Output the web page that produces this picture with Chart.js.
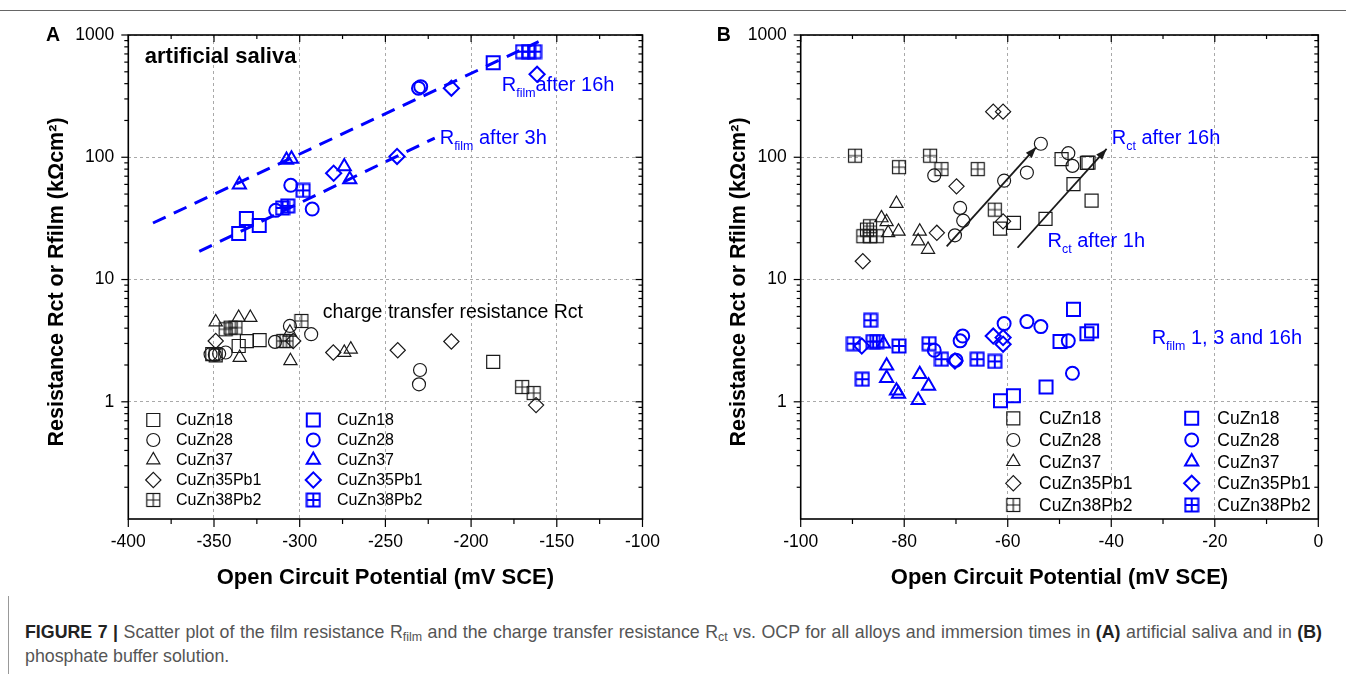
<!DOCTYPE html>
<html>
<head>
<meta charset="utf-8">
<script src="https://cdn.jsdelivr.net/npm/chart.js@4.4.1/dist/chart.umd.min.js"></script>
<style>
body { margin:0; background:#fff; width:1346px; height:674px; overflow:hidden; position:relative; font-family:"Liberation Sans", Arial, sans-serif; }
.panel { position:absolute; top:0; width:673px; height:600px; }
#boxA { left:0; }
#boxB { left:673px; }
#topline { position:absolute; left:0; top:10px; width:1346px; height:1px; background:#666; }
#sideline { position:absolute; left:8px; top:596px; width:1px; height:78px; background:#999; }
.cap { position:absolute; left:25px; width:1297px; font-size:17.8px; line-height:23px; color:#555; white-space:nowrap; }
#cap1 { top:621px; text-align:justify; text-align-last:justify; white-space:normal; }
#cap2 { top:645px; }
.cap b { color:#222; }
.cap sub { font-size:70%; line-height:0; vertical-align:-0.25em; }
</style>
</head>
<body>
<div id="topline"></div>
<div class="panel" id="boxA"><canvas id="chartA" width="673" height="600"></canvas></div>
<div class="panel" id="boxB"><canvas id="chartB" width="673" height="600"></canvas></div>
<div id="sideline"></div>
<div class="cap" id="cap1"><b>FIGURE 7 |</b> Scatter plot of the film resistance R<sub>film</sub> and the charge transfer resistance R<sub>ct</sub> vs. OCP for all alloys and immersion times in <b>(A)</b> artificial saliva and in <b>(B)</b></div>
<div class="cap" id="cap2">phosphate buffer solution.</div>
<script>
// alloys, same order in every panel
const alloys = ['CuZn18', 'CuZn28', 'CuZn37', 'CuZn35Pb1', 'CuZn38Pb2'];

// panel A - artificial saliva, [OCP mV, kOhm cm2]
// charge transfer resistance (black)
const aCtCuZn18 = [[-351, 2.45], [-349, 2.4], [-335.6, 2.86], [-330.8, 3.14], [-323.4, 3.2], [-187.1, 2.12]];
const aCtCuZn28 = [[-352, 2.45], [-349.5, 2.42], [-347, 2.47], [-343.2, 2.53], [-314.4, 3.09], [-305.7, 4.17], [-293.3, 3.57], [-229.8, 1.82], [-230.4, 1.39]];
const aCtCuZn37 = [[-349, 4.49], [-335.6, 4.88], [-328.8, 4.88], [-335, 2.3], [-305.4, 2.16], [-305.7, 3.7], [-274, 2.53], [-270.2, 2.69]];
const aCtCuZn35Pb1 = [[-349, 3.14], [-303.8, 3.14], [-280.4, 2.53], [-242.8, 2.64], [-211.5, 3.11], [-162.1, 0.94]];
const aCtCuZn38Pb2 = [[-343.2, 3.92], [-340.3, 4.04], [-337.5, 4.04], [-309.6, 3.14], [-307.7, 3.14], [-299, 4.58], [-170.2, 1.32], [-163.5, 1.18]];
// film resistance (blue)
const aFilmCuZn18 = [[-331.1, 31.5], [-323.6, 27.7], [-335.6, 23.8], [-187.1, 594]];
const aFilmCuZn28 = [[-305.2, 59], [-292.7, 37.7], [-314, 36.8], [-230.7, 367], [-229.4, 378]];
const aFilmCuZn37 = [[-335.2, 59.7], [-307.7, 95], [-304.8, 97], [-274, 84], [-270.8, 66]];
const aFilmCuZn35Pb1 = [[-280.2, 74], [-243.2, 101.6], [-211.5, 367], [-161.5, 477]];
const aFilmCuZn38Pb2 = [[-298, 53.6], [-310, 38.5], [-307, 40], [-170, 731], [-166.5, 731], [-163, 731]];
// dashed trend lines
const aTrend16h = [[-385.6, 29], [-160.6, 882]];
const aTrend3h = [[-358.6, 17], [-221.2, 143.6]];

// panel B - phosphate buffer
const bCtCuZn18 = [[-61.5, 26.1], [-58.8, 29.1], [-52.7, 31.3], [-49.6, 96.7], [-44.7, 89.8], [-44.4, 90.5], [-47.3, 60.4], [-43.8, 44.2]];
const bCtCuZn28 = [[-53.6, 129], [-48.3, 108], [-47.5, 85], [-56.3, 75], [-60.7, 64.3], [-74.2, 71], [-69.2, 38.5], [-68.6, 30.3], [-70.2, 23]];
const bCtCuZn37 = [[-81.5, 41.8], [-84.4, 31.9], [-83.4, 29.6], [-81.1, 24.8], [-83.1, 24.1], [-77, 24.8], [-77.3, 20.6], [-75.4, 17.6]];
const bCtCuZn35Pb1 = [[-62.8, 236], [-60.9, 236], [-69.9, 57.8], [-73.7, 24.1], [-60.9, 29.9], [-88, 14.1]];
const bCtCuZn38Pb2 = [[-89.5, 103], [-81, 83], [-75, 103], [-72.8, 80], [-65.8, 80], [-62.5, 37.3], [-87.9, 22.6], [-86.6, 22.6], [-85.3, 22.6], [-86.6, 27.3], [-87.2, 25.6]];
const bFilmCuZn18 = [[-47.3, 5.7], [-49.9, 3.11], [-44.7, 3.61], [-43.8, 3.79], [-52.6, 1.32], [-58.9, 1.12], [-61.4, 1.02]];
const bFilmCuZn28 = [[-74.2, 2.64], [-68.7, 3.45], [-69.2, 3.15], [-70, 2.19], [-60.7, 4.36], [-56.3, 4.53], [-53.6, 4.12], [-48.3, 3.15], [-47.5, 1.71]];
const bFilmCuZn37 = [[-84, 2.99], [-83.4, 1.97], [-83.4, 1.56], [-81.5, 1.23], [-81.1, 1.16], [-77, 1.68], [-75.3, 1.35], [-77.3, 1.03]];
const bFilmCuZn35Pb1 = [[-88.2, 2.86], [-70.2, 2.16], [-62.8, 3.45], [-60.9, 3.35], [-60.9, 2.96]];
const bFilmCuZn38Pb2 = [[-86.5, 4.64], [-89.8, 2.99], [-86, 3.11], [-85.3, 3.11], [-81, 2.86], [-75.2, 2.99], [-72.8, 2.23], [-65.9, 2.23], [-62.5, 2.14], [-88.1, 1.53]];
// arrows
const bArrowLeft = [[-71.8, 18.7], [-54.5, 121]];
const bArrowRight = [[-58.1, 18.2], [-40.9, 117]];

// tick labels
const aTicksX = [-400, -350, -300, -250, -200, -150, -100];
const bTicksX = [-100, -80, -60, -40, -20, 0];
const yTicks = [1, 10, 100, 1000];

const BLACK = '#1a1a1a';
const BLUE = '#0000ff';
const FONT = '"Liberation Sans", Arial, sans-serif';

// square with a cross, used as point style for CuZn38Pb2
function crossBox(color, lw) {
  const c = document.createElement('canvas');
  c.width = 16; c.height = 16;
  const g = c.getContext('2d');
  g.strokeStyle = color; g.lineWidth = lw;
  g.strokeRect(1.5, 1.5, 13, 13);
  g.beginPath();
  g.moveTo(8, 1.5); g.lineTo(8, 14.5);
  g.moveTo(1.5, 8); g.lineTo(14.5, 8);
  g.stroke();
  return c;
}
const boxBlack = crossBox(BLACK, 1.2);
const boxBlue = crossBox(BLUE, 2);

const radii = [9.2, 6.5, 7.6, 7.6, 7];
function styleFor(i, color) {
  return ['rect', 'circle', 'triangle', 'rectRot', color === BLUE ? boxBlue : boxBlack][i];
}

function marks(series, color, width) {
  return series.map((s, i) => ({
    label: alloys[i],
    data: s.map(p => ({x: p[0], y: p[1]})),
    showLine: false,
    borderColor: color,
    backgroundColor: 'rgba(0,0,0,0)',
    borderWidth: width,
    pointStyle: styleFor(i, color),
    pointRadius: radii[i],
    pointHoverRadius: radii[i]
  }));
}

function line(s, color, width, dash, arrow) {
  return {
    data: s.map(p => ({x: p[0], y: p[1]})),
    showLine: true,
    borderColor: color,
    borderWidth: width,
    borderDash: dash,
    pointRadius: 0,
    fill: false,
    arrowHead: arrow
  };
}

const decor = {
  id: 'decor',
  afterDatasetsDraw(chart) {
    const ctx = chart.ctx;
    chart.data.datasets.forEach((ds, i) => {
      if (!ds.arrowHead) return;
      const pts = chart.getDatasetMeta(i).data;
      const a = pts[pts.length - 2], b = pts[pts.length - 1];
      const ang = Math.atan2(b.y - a.y, b.x - a.x);
      ctx.save();
      ctx.fillStyle = ds.borderColor;
      ctx.translate(b.x, b.y); ctx.rotate(ang);
      ctx.beginPath(); ctx.moveTo(0, 0); ctx.lineTo(-11, -4); ctx.lineTo(-11, 4); ctx.closePath(); ctx.fill();
      ctx.restore();
    });
  },
  afterDraw(chart, args, o) {
    const ctx = chart.ctx, ca = chart.chartArea, xs = chart.scales.x, ys = chart.scales.y;
    ctx.save();
    const seg = (x1, y1, x2, y2) => { ctx.beginPath(); ctx.moveTo(x1, y1); ctx.lineTo(x2, y2); ctx.stroke(); };
    ctx.strokeStyle = '#000'; ctx.lineWidth = 1.2;
    // x ticks: out at the bottom, in at the top, minor halfway
    o.ticksX.forEach((v, i) => {
      const px = xs.getPixelForValue(v);
      seg(px, ca.bottom, px, ca.bottom + 8); seg(px, ca.top, px, ca.top + 7);
      if (i < o.ticksX.length - 1) {
        const m = xs.getPixelForValue((v + o.ticksX[i + 1]) / 2);
        seg(m, ca.bottom, m, ca.bottom + 5); seg(m, ca.top, m, ca.top + 4);
      }
    });
    // log ticks: out on the left, in on the right
    const yVals = [1000];
    for (let d = 0.1; d < 1000; d *= 10) for (let k = 1; k < 10; k++) yVals.push(d * k);
    yVals.forEach(v => {
      if (v < ys.min || v > ys.max) return;
      const py = ys.getPixelForValue(v);
      const major = yTicks.includes(Math.round(v * 1000) / 1000);
      seg(ca.left - (major ? 7 : 4), py, ca.left, py);
      seg(ca.right - (major ? 7 : 4), py, ca.right, py);
    });
    ctx.lineWidth = 1.6;
    ctx.strokeRect(ca.left, ca.top, ca.right - ca.left, ca.bottom - ca.top);

    // axis titles and panel letter
    ctx.fillStyle = '#000';
    ctx.textAlign = 'center'; ctx.textBaseline = 'middle';
    ctx.font = 'bold 22px ' + FONT;
    ctx.fillText('Open Circuit Potential (mV SCE)', (ca.left + ca.right) / 2, 578);
    ctx.save();
    ctx.translate(o.yTitleX, 282); ctx.rotate(-Math.PI / 2);
    ctx.font = 'bold 21.5px ' + FONT;
    ctx.fillText('Resistance Rct or Rfilm (k\u03A9cm\u00B2)', 0, 0);
    ctx.restore();
    ctx.font = 'bold 19.5px ' + FONT;
    ctx.fillText(o.letter, o.letterX, ca.top + 1);

    // notes anchored on data coordinates
    ctx.textAlign = 'left';
    o.notes.forEach(n => {
      let cx = xs.getPixelForValue(n.x);
      const cy = ys.getPixelForValue(n.y);
      ctx.fillStyle = n.color;
      n.parts.forEach(([t, sub]) => {
        const fs = sub ? n.size * 0.62 : n.size;
        ctx.font = (n.bold ? 'bold ' : '') + fs + 'px ' + FONT;
        ctx.fillText(t, cx, cy + (sub ? n.size * 0.4 : 0));
        cx += ctx.measureText(t).width;
      });
    });

    // legend: two columns, symbols taken from the datasets
    const lg = o.legend;
    ctx.font = lg.size + 'px ' + FONT;
    lg.cols.forEach(col => {
      lg.rows.forEach((ry, r) => {
        const ds = chart.data.datasets[col.from + r];
        ctx.strokeStyle = ds.borderColor; ctx.fillStyle = 'rgba(0,0,0,0)'; ctx.lineWidth = ds.borderWidth;
        Chart.helpers.drawPoint(ctx, {pointStyle: ds.pointStyle, radius: ds.pointRadius, rotation: 0, borderWidth: ds.borderWidth}, col.sym, ry);
        ctx.fillStyle = '#000';
        ctx.fillText(ds.label, col.text, ry + 1);
      });
    });
    ctx.restore();
  }
};

function makeChart(id, cfg) {
  return new Chart(document.getElementById(id), {
    type: 'scatter',
    data: {datasets: cfg.datasets},
    plugins: [decor],
    options: {
      responsive: false,
      animation: false,
      layout: {padding: {left: 0, top: 35, right: cfg.padRight, bottom: 0}},
      plugins: {legend: {display: false}, tooltip: {enabled: false}, decor: cfg.decor},
      scales: {
        x: {
          type: 'linear', min: cfg.ticksX[0], max: cfg.ticksX[cfg.ticksX.length - 1],
          afterBuildTicks: s => { s.ticks = cfg.ticksX.map(v => ({value: v})); },
          afterFit: s => { s.height = 81; },
          ticks: {autoSkip: false, maxRotation: 0, padding: 13, color: '#000', font: {family: FONT, size: 17.5}, callback: v => String(v)},
          grid: {color: '#a9a9a9', lineWidth: 1, drawTicks: false},
          border: {display: false, dash: [3, 3]}
        },
        y: {
          type: 'logarithmic', min: 0.11, max: 1000,
          afterBuildTicks: s => { s.ticks = yTicks.map(v => ({value: v})); },
          afterFit: s => { s.width = cfg.padLeft; },
          ticks: {autoSkip: false, padding: 14, color: '#000', font: {family: FONT, size: 17.5}, callback: v => String(v)},
          grid: {color: '#a9a9a9', lineWidth: 1, drawTicks: false},
          border: {display: false, dash: [3, 3]}
        }
      }
    }
  });
}

makeChart('chartA', {
  ticksX: aTicksX, padLeft: 128.3, padRight: 24.7,
  datasets: [
    ...marks([aCtCuZn18, aCtCuZn28, aCtCuZn37, aCtCuZn35Pb1, aCtCuZn38Pb2], BLACK, 1.2),
    ...marks([aFilmCuZn18, aFilmCuZn28, aFilmCuZn37, aFilmCuZn35Pb1, aFilmCuZn38Pb2], BLUE, 2),
    line(aTrend16h, BLUE, 3, [14, 9], false),
    line(aTrend3h, BLUE, 3, [14, 9], false)
  ],
  decor: {
    ticksX: aTicksX, letter: 'A', letterX: 53, yTitleX: 57,
    notes: [
      {x: -390.4, y: 656, parts: [['artificial saliva', 0]], color: '#000', size: 22, bold: true},
      {x: -182.1, y: 383, parts: [['R', 0], ['film', 1], ['after 16h', 0]], color: BLUE, size: 20},
      {x: -218.3, y: 141.6, parts: [['R', 0], ['film', 1], [' after 3h', 0]], color: BLUE, size: 20},
      {x: -286.5, y: 5.36, parts: [['charge transfer resistance Rct', 0]], color: '#000', size: 19.5}
    ],
    legend: {size: 16, rows: [420, 440, 460, 480, 500], cols: [{sym: 153.3, text: 176, from: 0}, {sym: 313.3, text: 337, from: 5}]}
  }
});

makeChart('chartB', {
  ticksX: bTicksX, padLeft: 127.7, padRight: 27.7,
  datasets: [
    ...marks([bCtCuZn18, bCtCuZn28, bCtCuZn37, bCtCuZn35Pb1, bCtCuZn38Pb2], BLACK, 1.2),
    ...marks([bFilmCuZn18, bFilmCuZn28, bFilmCuZn37, bFilmCuZn35Pb1, bFilmCuZn38Pb2], BLUE, 2),
    line(bArrowLeft, BLACK, 1.8, [], true),
    line(bArrowRight, BLACK, 1.8, [], true)
  ],
  decor: {
    ticksX: bTicksX, letter: 'B', letterX: 50.7, yTitleX: 66,
    notes: [
      {x: -39.9, y: 143.5, parts: [['R', 0], ['ct', 1], [' after 16h', 0]], color: BLUE, size: 20},
      {x: -52.3, y: 20.6, parts: [['R', 0], ['ct', 1], [' after 1h', 0]], color: BLUE, size: 20},
      {x: -32.2, y: 3.31, parts: [['R', 0], ['film', 1], [' 1, 3 and 16h', 0]], color: BLUE, size: 20}
    ],
    legend: {size: 17.5, rows: [418.3, 440, 461.7, 483.3, 505], cols: [{sym: 340.3, text: 366, from: 0}, {sym: 518.7, text: 544.3, from: 5}]}
  }
});
</script>
</body>
</html>
